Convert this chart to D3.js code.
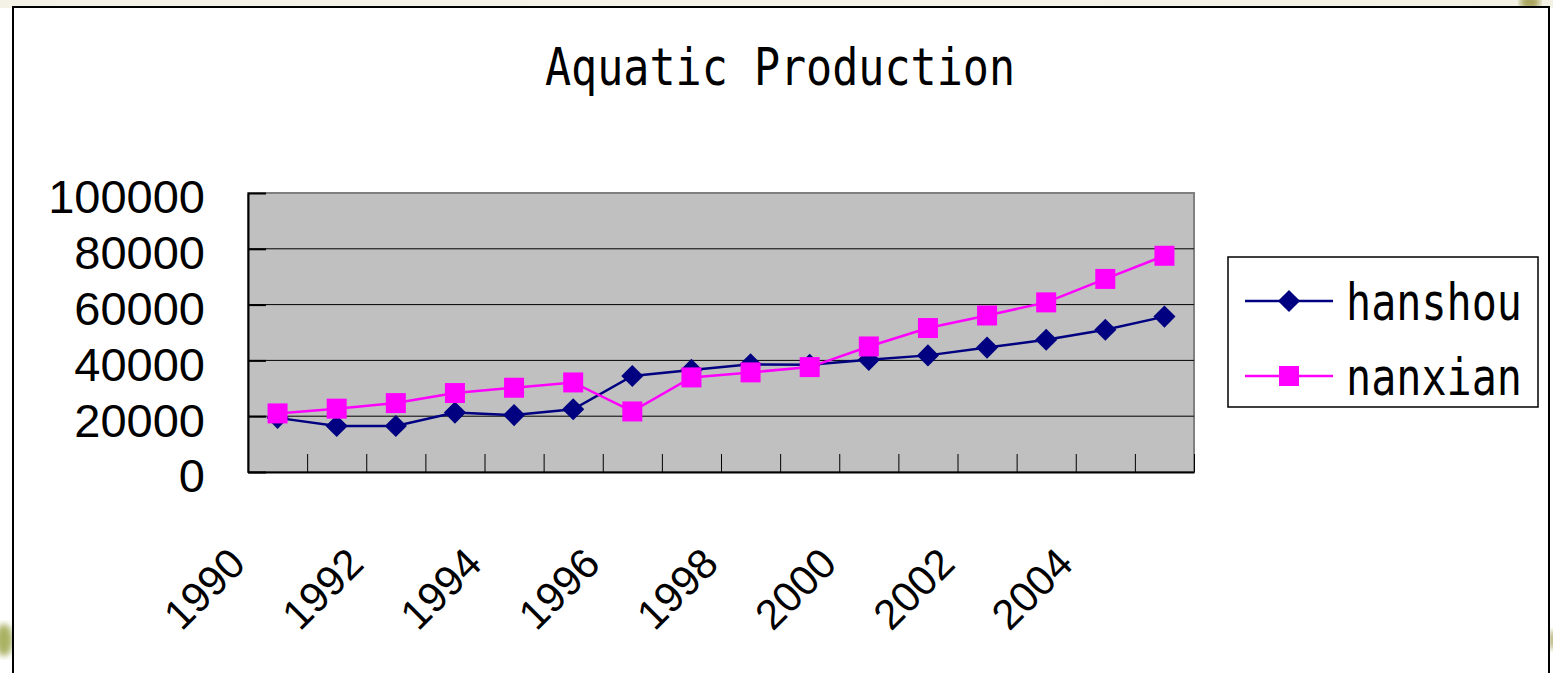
<!DOCTYPE html>
<html lang="en">
<head>
<meta charset="UTF-8"/>
<title>Aquatic Production</title>
<script src="https://d3js.org/d3.v7.min.js"></script>
<style>
    body { margin: 0; background: #ffffff; overflow: hidden; }
    .ylab text { font-family: "Liberation Sans", Arial, sans-serif; font-size: 47px; fill: #000; }
    .xlab { font-family: "Liberation Sans", Arial, sans-serif; font-size: 42px; fill: #000; }
    .mono { font-family: "DejaVu Sans Mono", "Liberation Mono", monospace; font-size: 52px; fill: #000; }
</style>
</head>
<body>
<div id="chart"></div>
<script>

    //Window Size
    var w = 1553;
    var h = 673;

    //Data
    var years = ["1990","1991","1992","1993","1994","1995","1996","1997",
                 "1998","1999","2000","2001","2002","2003","2004","2005"];
    var hanshou = [19400, 16500, 16500, 21300, 20400, 22500, 34400, 36600,
                   38600, 38400, 40200, 41800, 44600, 47400, 51000, 55700];
    var nanxian = [21000, 22700, 24700, 28300, 30200, 32100, 21700, 33900,
                   35700, 37600, 45000, 51600, 56100, 60800, 69200, 77500];
    var yTicks = [0, 20000, 40000, 60000, 80000, 100000];
    var xLabels = ["1990","1992","1994","1996","1998","2000","2002","2004"];
    var seriesNames = ["hanshou", "nanxian"];
    var seriesColors = ["#000080", "#FF00FF"];

    //Plot area
    var plotLeft = 248, plotRight = 1194, plotTop = 193, plotBottom = 472;

    var svg = d3.select("#chart")
                .append("svg")
                .attr("width", w)
                .attr("height", h);

    //Background remnants of the slide
    var defs = svg.append("defs");
    var grad = defs.append("linearGradient").attr("id", "topband")
                   .attr("x1", 0).attr("x2", 1).attr("y1", 0).attr("y2", 0);
    grad.append("stop").attr("offset", "0%").attr("stop-color", "#f4f1e6");
    grad.append("stop").attr("offset", "60%").attr("stop-color", "#f6f3e8");
    grad.append("stop").attr("offset", "100%").attr("stop-color", "#f3f2e4");
    defs.append("filter").attr("id", "blur")
        .append("feGaussianBlur").attr("stdDeviation", 3);

    svg.append("rect").attr("x", 0).attr("y", 0).attr("width", w).attr("height", 8)
       .attr("fill", "url(#topband)");
    svg.append("ellipse").attr("cx", 1530).attr("cy", 2).attr("rx", 10).attr("ry", 8)
       .attr("fill", "#a7a35c").attr("filter", "url(#blur)");
    svg.append("ellipse").attr("cx", 4).attr("cy", 640).attr("rx", 9).attr("ry", 16)
       .attr("fill", "#a9b263").attr("filter", "url(#blur)");
    svg.append("ellipse").attr("cx", 1553).attr("cy", 640).attr("rx", 4).attr("ry", 10)
       .attr("fill", "#b0ab6a").attr("filter", "url(#blur)");

    //Chart frame
    svg.append("rect")
       .attr("x", 13).attr("y", 7)
       .attr("width", 1536).attr("height", 700)
       .attr("fill", "#ffffff")
       .attr("stroke", "#000").attr("stroke-width", 2);

    //Title
    svg.append("text")
       .attr("class", "mono")
       .attr("x", 545).attr("y", 85)
       .attr("textLength", 470)
       .attr("lengthAdjust", "spacingAndGlyphs")
       .text("Aquatic Production");

    //Scales
    var xScale = d3.scaleBand()
                   .domain(years)
                   .range([plotLeft, plotRight]);

    var xEdge = d3.scaleLinear()
                  .domain([0, years.length])
                  .range([plotLeft, plotRight]);

    var yScale = d3.scaleLinear()
                   .domain([0, 100000])
                   .range([plotBottom, plotTop]);

    //Plot background
    svg.append("rect")
       .attr("x", plotLeft).attr("y", plotTop)
       .attr("width", plotRight - plotLeft).attr("height", plotBottom - plotTop)
       .attr("fill", "#C0C0C0")
       .attr("stroke", "#808080").attr("stroke-width", 2);

    //Gridlines
    svg.selectAll(".grid")
       .data(yTicks.slice(1, yTicks.length - 1))
       .enter()
       .append("line")
       .attr("x1", plotLeft).attr("x2", plotRight)
       .attr("y1", function(d){ return yScale(d); })
       .attr("y2", function(d){ return yScale(d); })
       .attr("stroke", "#000")
       .attr("stroke-width", 1);

    //Y axis
    var yAxis = d3.axisLeft(yScale)
                  .tickValues(yTicks)
                  .tickSizeInner(-18)
                  .tickSizeOuter(0)
                  .tickPadding(43)
                  .tickFormat(d3.format("d"));
    svg.append("g")
       .attr("class", "ylab")
       .attr("transform", "translate(" + plotLeft + ",0)")
       .call(yAxis)
       .call(function(g){
           g.select(".domain").attr("stroke", "#000").attr("stroke-width", 2);
           g.selectAll(".tick line").attr("stroke", "#000").attr("stroke-width", 2);
           g.selectAll(".tick text").attr("dy", "0.7em").attr("y", -13);
       });

    //X axis ticks at category edges
    var xAxis = d3.axisBottom(xEdge)
                  .tickValues(d3.range(years.length + 1))
                  .tickSizeInner(-18)
                  .tickSizeOuter(0)
                  .tickFormat("");
    svg.append("g")
       .attr("transform", "translate(0," + plotBottom + ")")
       .call(xAxis)
       .call(function(g){
           g.select(".domain").attr("stroke", "#000").attr("stroke-width", 2);
           g.selectAll(".tick line").attr("stroke", "#000").attr("stroke-width", 1);
       });

    //X labels, rotated
    svg.selectAll(".xlab")
       .data(xLabels)
       .enter()
       .append("text")
       .attr("class", "xlab")
       .attr("text-anchor", "end")
       .attr("transform", function(d){
           var cx = xScale(d) + xScale.bandwidth() / 2 - 30;
           return "translate(" + cx + ",566) rotate(-45)";
       })
       .text(function(d){ return d; });

    //Lines and markers
    var line = d3.line()
                 .x(function(d, i){ return xScale(years[i]) + xScale.bandwidth() / 2; })
                 .y(function(d){ return yScale(d); });

    var diamond = d3.symbol().type(d3.symbolSquare).size(245);
    var square = d3.symbol().type(d3.symbolSquare).size(400);

    [hanshou, nanxian].forEach(function(values, s){
        svg.append("path")
           .datum(values)
           .attr("d", line)
           .attr("fill", "none")
           .attr("stroke", seriesColors[s])
           .attr("stroke-width", 2.5);

        svg.selectAll(".m" + s)
           .data(values)
           .enter()
           .append("path")
           .attr("class", "m" + s)
           .attr("d", s === 0 ? diamond : square)
           .attr("fill", seriesColors[s])
           .attr("transform", function(d, i){
               var px = xScale(years[i]) + xScale.bandwidth() / 2;
               return "translate(" + px + "," + yScale(d) + ")" + (s === 0 ? " rotate(45)" : "");
           });
    });

    //Legend
    var legend = svg.append("g");
    legend.append("rect")
          .attr("x", 1228).attr("y", 257)
          .attr("width", 310).attr("height", 150)
          .attr("fill", "#fff")
          .attr("stroke", "#000").attr("stroke-width", 1.5);

    var legendRows = [301, 376];
    seriesNames.forEach(function(name, s){
        var ly = legendRows[s];
        legend.append("line")
              .attr("x1", 1245).attr("x2", 1333)
              .attr("y1", ly).attr("y2", ly)
              .attr("stroke", seriesColors[s])
              .attr("stroke-width", 2.5);
        legend.append("path")
              .attr("d", s === 0 ? diamond : square)
              .attr("fill", seriesColors[s])
              .attr("transform", "translate(1289," + ly + ")" + (s === 0 ? " rotate(45)" : ""));
        legend.append("text")
              .attr("class", "mono")
              .attr("x", 1346).attr("y", ly + 19)
              .attr("textLength", 176)
              .attr("lengthAdjust", "spacingAndGlyphs")
              .text(name);
    });

</script>
</body>
</html>
